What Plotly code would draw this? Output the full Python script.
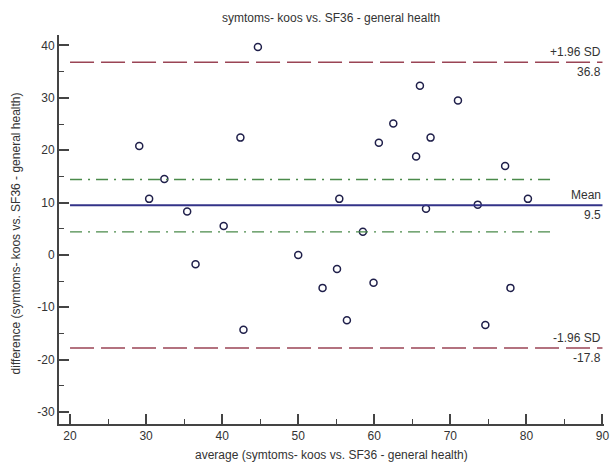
import plotly.graph_objects as go

# ---- data ----
avg_vals = [29.1, 30.4, 32.4, 35.4, 36.5, 40.2, 42.4, 42.8, 44.7, 50.0,
            53.2, 55.1, 55.4, 56.4, 58.5, 59.9, 60.6, 62.5, 65.5, 66.0,
            66.8, 67.4, 71.0, 73.6, 74.6, 77.2, 77.9, 80.2]
diff_vals = [20.8, 10.7, 14.5, 8.3, -1.8, 5.5, 22.4, -14.3, 39.7, 0.0,
             -6.3, -2.7, 10.7, -12.5, 4.4, -5.3, 21.4, 25.1, 18.8, 32.3,
             8.8, 22.4, 29.5, 9.6, -13.4, 17.0, -6.3, 10.7]
mean_diff = 9.5
upper_loa = 36.8
lower_loa = -17.8
ci_upper = 14.4
ci_lower = 4.4
x_ticks = [20, 30, 40, 50, 60, 70, 80, 90]
y_ticks = [-30, -20, -10, 0, 10, 20, 30, 40]

title_txt = "symtoms- koos vs. SF36 - general health"
x_title = "average (symtoms- koos vs. SF36 - general health)"
y_title = "difference (symtoms- koos vs. SF36 - general health)"

FONT = "Liberation Sans, Arial, sans-serif"
TXT = "#333333"

fig = go.Figure()
fig.add_trace(go.Scatter(
    x=avg_vals, y=diff_vals, mode="markers",
    marker=dict(symbol="circle-open", size=7, color="#1f1f4a",
                line=dict(width=1.5, color="#1f1f4a")),
    showlegend=False, hoverinfo="x+y"))

x0, x1 = 20, 90
ci_end = 83.8

# limits of agreement
for v in (upper_loa, lower_loa):
    fig.add_shape(type="line", x0=x0, x1=x1, y0=v, y1=v, xref="x", yref="y",
                  line=dict(color="#9a4455", width=1.5, dash="24px,7px"))
# mean
fig.add_shape(type="line", x0=x0, x1=x1, y0=mean_diff, y1=mean_diff,
              xref="x", yref="y", line=dict(color="#333388", width=2))
# CI of mean
for v in (ci_upper, ci_lower):
    fig.add_shape(type="line", x0=x0, x1=ci_end, y0=v, y1=v, xref="x", yref="y",
                  line=dict(color="#4a8a4a", width=1.3, dash="12px,6px,2px,6px"))

labels = [("+1.96 SD", f"{upper_loa:.1f}", upper_loa),
          ("Mean", f"{mean_diff:.1f}", mean_diff),
          ("-1.96 SD", f"{lower_loa:.1f}", lower_loa)]
for top, bottom, v in labels:
    fig.add_annotation(x=x1, y=v, xref="x", yref="y", text=top, showarrow=False,
                       xanchor="right", yanchor="bottom", yshift=1, xshift=1,
                       font=dict(family=FONT, size=12, color=TXT))
    fig.add_annotation(x=x1, y=v, xref="x", yref="y", text=bottom, showarrow=False,
                       xanchor="right", yanchor="top", yshift=-1, xshift=1,
                       font=dict(family=FONT, size=12, color=TXT))

# axis titles as annotations (pixel-positioned relative to plot area)
fig.add_annotation(x=0.5, y=0, xref="paper", yref="paper", text=x_title,
                   showarrow=False, xanchor="center", yanchor="middle", yshift=-31,
                   font=dict(family=FONT, size=12, color=TXT))
fig.add_annotation(x=0, y=0.49, xref="paper", yref="paper", text=y_title,
                   showarrow=False, xanchor="center", yanchor="middle", xshift=-43,
                   textangle=-90, font=dict(family=FONT, size=12, color=TXT))

axis_common = dict(showgrid=False, zeroline=False, showline=True, automargin=False,
                   linecolor="#444444", linewidth=2, ticks="inside",
                   ticklen=10, tickwidth=2, tickcolor="#444444",
                   tickfont=dict(family=FONT, size=12, color=TXT),
                   minor=dict(ticks="inside", ticklen=5, tickwidth=1,
                              tickcolor="#444444", dtick=5))

fig.update_xaxes(range=[18.55, 90.2], tickvals=x_ticks,
                 ticktext=[str(t) for t in x_ticks], **axis_common)
fig.update_yaxes(range=[-32.3, 42], tickvals=y_ticks,
                 ticktext=[str(t) for t in y_ticks], **axis_common)

fig.update_layout(
    width=613, height=464,
    margin=dict(l=59, r=9, t=35, b=40, autoexpand=False),
    paper_bgcolor="white", plot_bgcolor="white",
    title=dict(text=title_txt, x=0.54, xanchor="center", y=0.962, yanchor="middle",
               font=dict(family=FONT, size=12, color=TXT)),
    showlegend=False,
)

fig.write_html("out.html", config={"displayModeBar": False},
               post_script="document.body.style.margin='0';"
                           "document.body.style.overflow='hidden';")
